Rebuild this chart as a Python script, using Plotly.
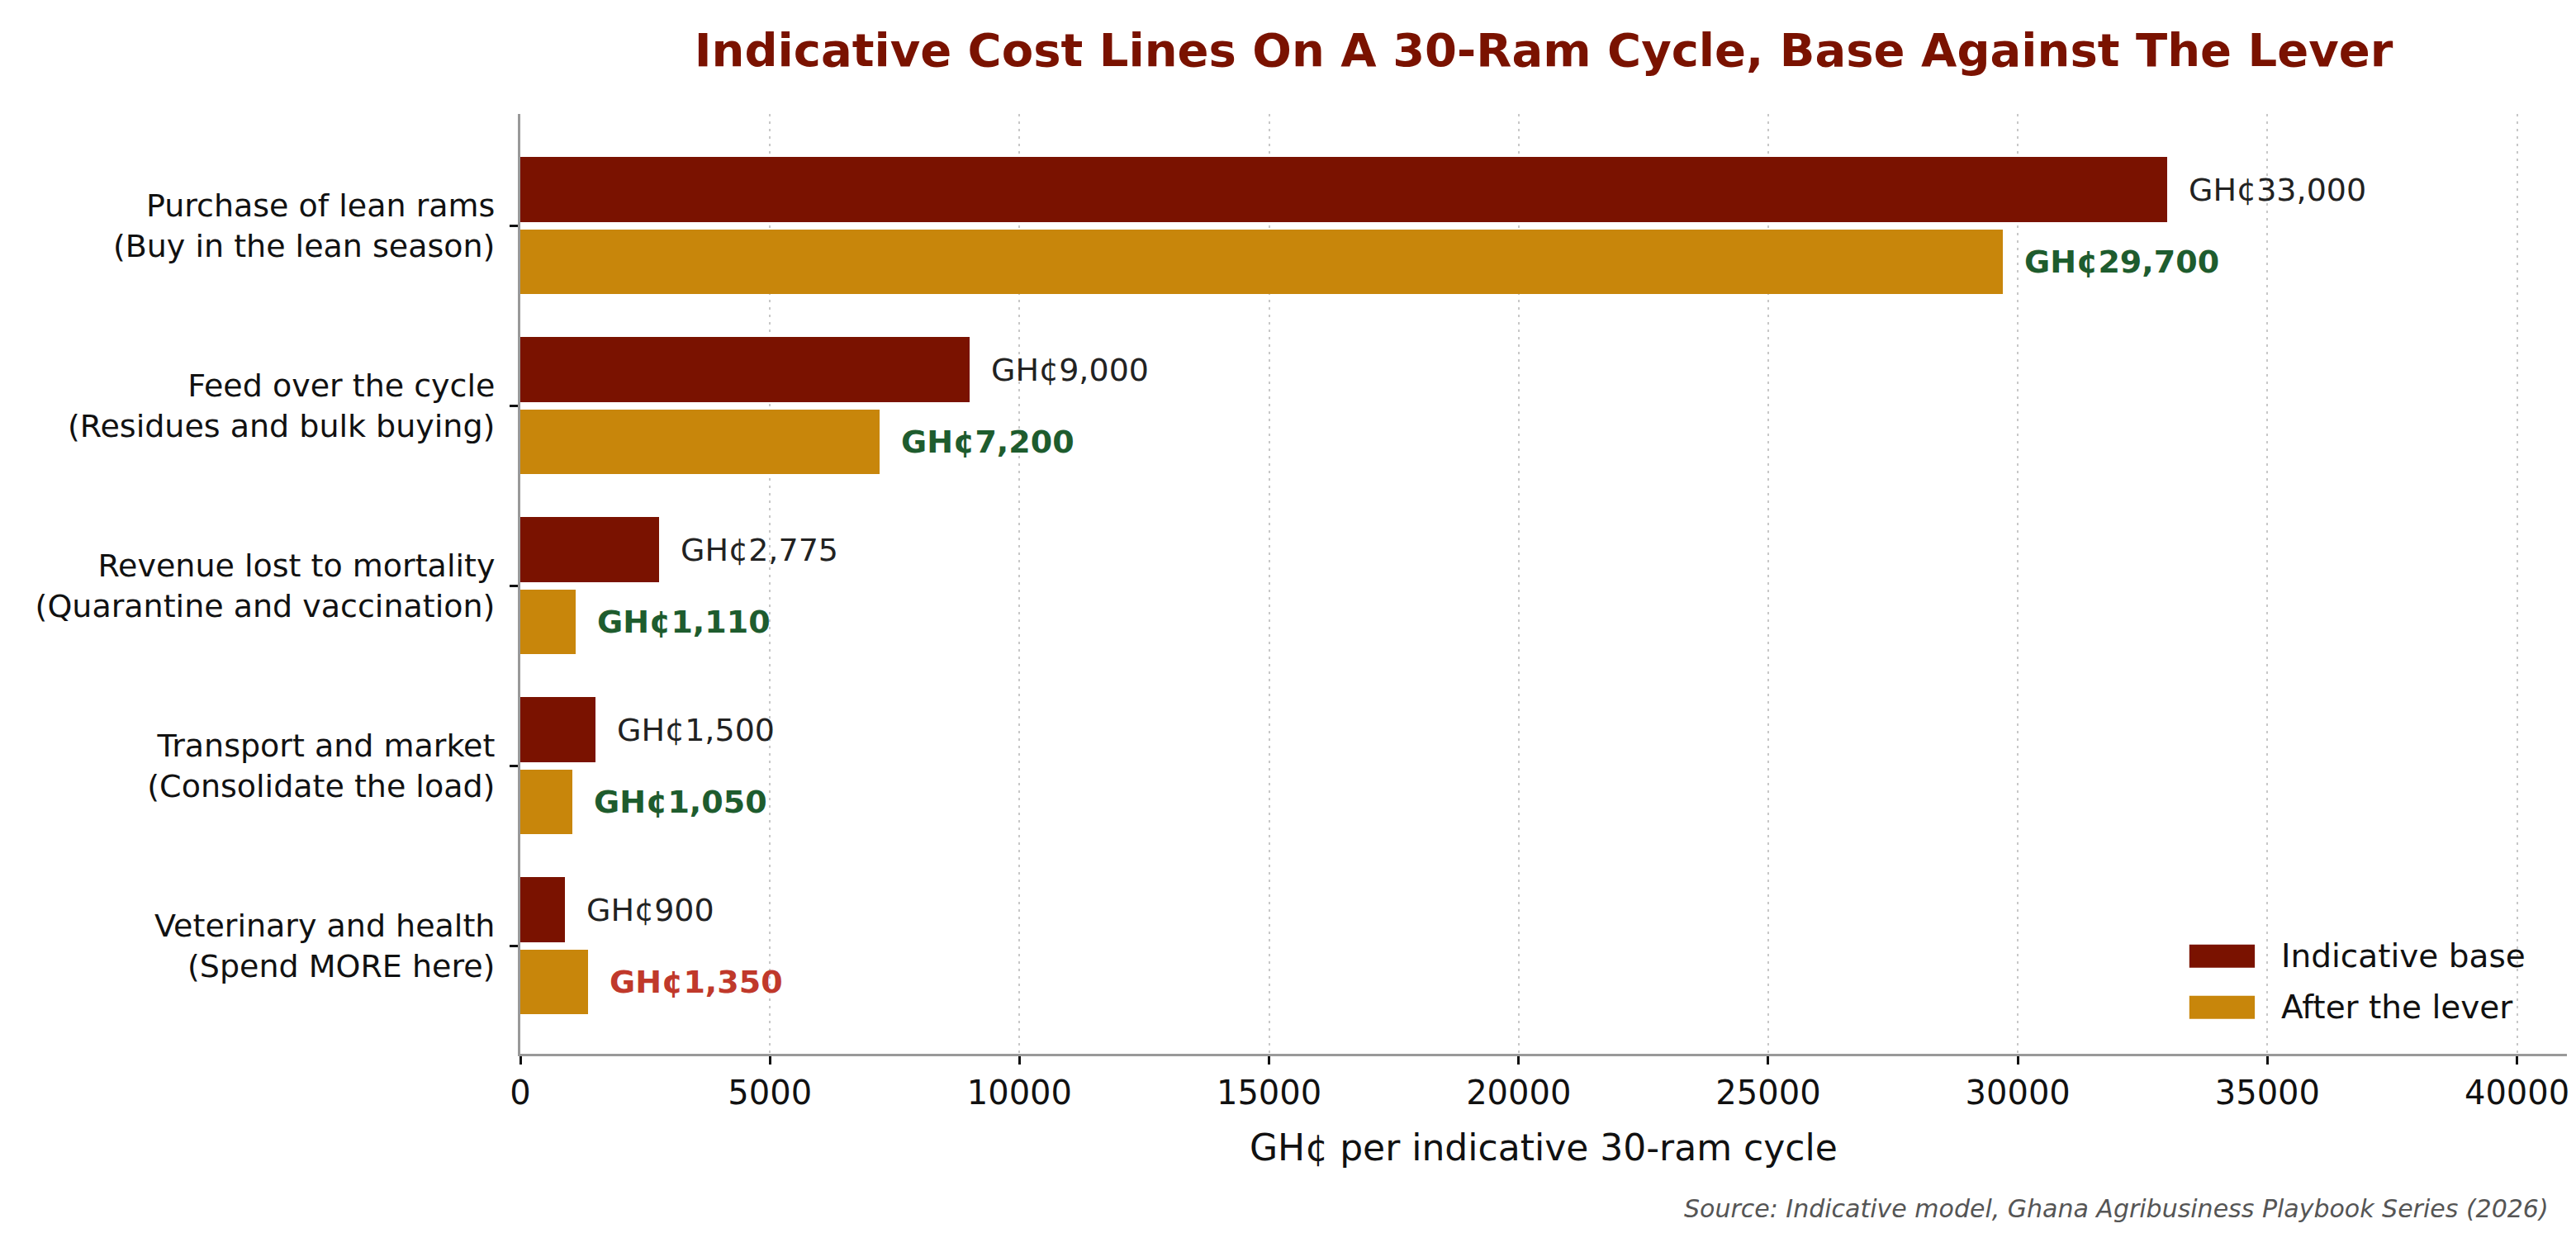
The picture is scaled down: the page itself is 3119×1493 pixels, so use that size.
import plotly.graph_objects as go

# cost lines on an indicative 30-ram cycle
categories = [
    "Purchase of lean rams<br>(Buy in the lean season)",
    "Feed over the cycle<br>(Residues and bulk buying)",
    "Revenue lost to mortality<br>(Quarantine and vaccination)",
    "Transport and market<br>(Consolidate the load)",
    "Veterinary and health<br>(Spend MORE here)",
]
base_values = [33000, 9000, 2775, 1500, 900]
lever_values = [29700, 7200, 1110, 1050, 1350]
x_ticks = [0, 5000, 10000, 15000, 20000, 25000, 30000, 35000, 40000]
series_names = ["Indicative base", "After the lever"]

MAROON = "#7A1200"
GOLD = "#C8860B"
GREEN = "#1E5C2E"
RED = "#C0392B"
FONT = "DejaVu Sans"

idx = list(range(len(categories)))

fig = go.Figure()
fig.add_trace(go.Bar(
    y=[i - 0.2 for i in idx], x=base_values, orientation="h",
    width=0.36, marker=dict(color=MAROON, line=dict(width=0)),
    name=series_names[0],
))
fig.add_trace(go.Bar(
    y=[i + 0.2 for i in idx], x=lever_values, orientation="h",
    width=0.36, marker=dict(color=GOLD, line=dict(width=0)),
    name=series_names[1],
))

# value labels beside the bars
for i, (b, a) in enumerate(zip(base_values, lever_values)):
    fig.add_annotation(
        x=b, y=i - 0.2, text=f"GH¢{b:,}", showarrow=False,
        xanchor="left", yanchor="middle", xshift=24,
        font=dict(family=FONT, size=38, color="#222222"),
    )
    col = RED if a > b else GREEN
    fig.add_annotation(
        x=a, y=i + 0.2, text=f"<b>GH¢{a:,}</b>", showarrow=False,
        xanchor="left", yanchor="middle", xshift=24,
        font=dict(family=FONT, size=38, color=col),
    )

# matplotlib-style legend: wide swatches in the lower right
for k, (name, col) in enumerate(zip(series_names, [MAROON, GOLD])):
    yc = 0.104 - k * 0.0545
    fig.add_shape(
        type="rect", xref="paper", yref="paper",
        x0=0.8155, x1=0.8475, y0=yc - 0.0123, y1=yc + 0.0123,
        fillcolor=col, line=dict(width=0), layer="above",
    )
    fig.add_annotation(
        text=name, xref="paper", yref="paper", x=0.8595, y=yc,
        xanchor="left", yanchor="middle", showarrow=False,
        font=dict(family=FONT, size=39, color="#111111"),
    )

fig.add_annotation(
    text="GH¢ per indicative 30-ram cycle",
    xref="paper", yref="paper", x=0.5, y=-0.1,
    xanchor="center", yanchor="middle", showarrow=False,
    font=dict(family=FONT, size=44, color="#111111"),
)
fig.add_annotation(
    text="<i>Source: Indicative model, Ghana Agribusiness Playbook Series (2026)</i>",
    xref="paper", yref="paper", x=0.992, y=-0.165,
    xanchor="right", yanchor="middle", showarrow=False,
    font=dict(family=FONT, size=30, color="#555555"),
)

fig.update_layout(
    width=3119, height=1493,
    paper_bgcolor="white", plot_bgcolor="white",
    margin=dict(l=622, r=19, t=130, b=225),
    font=dict(family=FONT, size=38, color="#111111"),
    title=dict(
        text="<b>Indicative Cost Lines On A 30-Ram Cycle, Base Against The Lever</b>",
        x=0.5, xref="paper", xanchor="center",
        y=1 - 52 / 1493, yref="container", yanchor="middle",
        font=dict(family=FONT, size=56, color=MAROON),
    ),
    bargap=0, barmode="overlay",
    showlegend=False,
)

fig.update_xaxes(
    range=[0, 41000], tickvals=x_ticks, ticktext=[str(t) for t in x_ticks],
    showgrid=True, gridcolor="#C8C8C8", gridwidth=2, griddash="3px,6px",
    showline=True, linecolor="#999999", linewidth=3,
    ticks="outside", ticklen=10, tickwidth=3, tickcolor="#111111",
    tickfont=dict(family=FONT, size=40, color="#111111"),
    zeroline=False,
)
fig.update_yaxes(
    range=[4.6, -0.62], tickvals=idx, ticktext=categories,
    showgrid=False, zeroline=False,
    showline=True, linecolor="#999999", linewidth=3,
    ticks="outside", ticklen=10, tickwidth=3, tickcolor="#111111",
    ticklabelstandoff=10,
    tickfont=dict(family=FONT, size=38, color="#111111"),
)

fig.write_html("out.html")
